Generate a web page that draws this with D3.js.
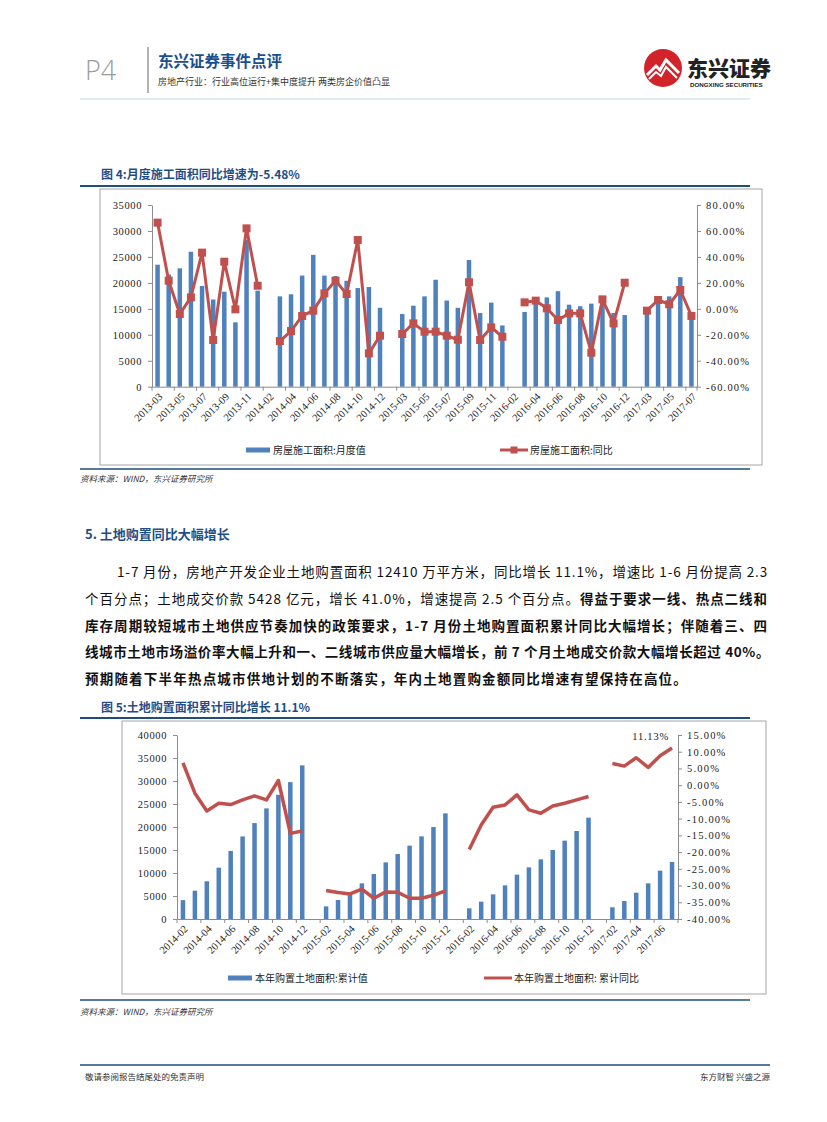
<!DOCTYPE html>
<html><head><meta charset="utf-8">
<script src="https://cdn.jsdelivr.net/npm/d3@7"></script>
<style>
html,body{margin:0;padding:0;background:#fff;}
svg{display:block;}
</style></head>
<body>
<svg id="page" width="827" height="1122"></svg>
<script>
// ---------------- DATA ----------------
// Figure 4: monthly floor area under construction (万平方米) and YoY (%)
const cats1 = ["2013-03","2013-04","2013-05","2013-06","2013-07","2013-08","2013-09","2013-10","2013-11","2013-12",
  "2014-02","2014-03","2014-04","2014-05","2014-06","2014-07","2014-08","2014-09","2014-10","2014-11","2014-12",
  "2015-02","2015-03","2015-04","2015-05","2015-06","2015-07","2015-08","2015-09","2015-10","2015-11","2015-12",
  "2016-02","2016-03","2016-04","2016-05","2016-06","2016-07","2016-08","2016-09","2016-10","2016-11","2016-12",
  "2017-02","2017-03","2017-04","2017-05","2017-06","2017-07"];
const monthly1 = [23500,21600,22800,26000,19400,16800,18300,12400,28300,18500,
  null,17400,17800,21400,25400,21400,21300,20400,19000,19200,15200,
  null,14000,15600,17400,20600,16600,15200,24400,14200,16200,11800,
  null,14400,16200,17200,18400,15800,15500,16000,16000,14200,13800,
  null,14500,16300,17400,21100,14000];
const yoy1 = [66.4,21.7,-4.0,8.8,43.3,-24.0,36.3,-0.4,62.0,17.8,
  null,-24.8,-17.1,-5.5,-1.4,11.9,21.7,11.4,53.0,-34.3,-20.7,
  null,-19.4,-11.2,-17.6,-17.6,-20.7,-23.8,20.5,-24.0,-14.3,-21.5,
  null,5.0,6.3,0.4,-8.6,-3.5,-3.5,-33.8,7.3,-11.2,20.1,
  null,-1.4,6.8,3.5,14.5,-5.48];
const leftTicks1 = [0,5000,10000,15000,20000,25000,30000,35000];
const rightTicks1 = [-60,-40,-20,0,20,40,60,80];
const legend1 = ["房屋施工面积:月度值","房屋施工面积:同比"];

// Figure 5: cumulative land purchase area (万平方米) and cumulative YoY (%)
const cats2 = ["2014-02","2014-03","2014-04","2014-05","2014-06","2014-07","2014-08","2014-09","2014-10","2014-11","2014-12",
  "2015-01","2015-02","2015-03","2015-04","2015-05","2015-06","2015-07","2015-08","2015-09","2015-10","2015-11","2015-12",
  "2016-01","2016-02","2016-03","2016-04","2016-05","2016-06","2016-07","2016-08","2016-09","2016-10","2016-11","2016-12",
  "2017-01","2017-02","2017-03","2017-04","2017-05","2017-06","2017-07"];
const cum2 = [4100,6150,8200,11150,14800,17950,20850,24050,27000,29750,33400,
  null,2750,4130,5600,7750,9780,12300,14130,15950,17970,20000,22970,
  null,2320,3770,5360,7320,9640,11230,12970,15000,17030,19130,22030,
  null,2540,3910,5720,7750,10510,12410];
const yoy2 = [6.7,-2.4,-7.7,-5.4,-5.8,-4.4,-3.2,-4.4,1.4,-14.4,-13.7,
  null,-31.5,-32.1,-32.5,-31.1,-33.8,-31.9,-32.0,-33.8,-33.8,-32.9,-31.6,
  null,-19.2,-11.9,-6.6,-5.9,-2.9,-7.4,-8.4,-6.2,-5.4,-4.4,-3.4,
  null,6.5,5.7,8.2,5.3,8.8,11.13];
const leftTicks2 = [0,5000,10000,15000,20000,25000,30000,35000,40000];
const rightTicks2 = [-40,-35,-30,-25,-20,-15,-10,-5,0,5,10,15];
const legend2 = ["本年购置土地面积:累计值","本年购置土地面积: 累计同比"];

// ---------------- STYLE ----------------
const BLUE = "#4F81BD", RED = "#C0504D", NAVY = "#1F4E86", AXIS = "#8c8c8c";
const CJK = "'Noto Sans CJK SC','Noto Sans',sans-serif";
const SERIF = "'Liberation Serif','DejaVu Serif',serif";

const svg = d3.select("#page");
svg.append("rect").attr("width",827).attr("height",1122).attr("fill","#fff");

// ---------------- HEADER ----------------
svg.append("text").attr("x",85).attr("y",80).text("P4")
  .attr("font-family","'Open Sans',sans-serif").attr("font-weight",300).attr("font-size",27).attr("fill","#9b9b9b");
svg.append("line").attr("x1",148).attr("x2",148).attr("y1",47).attr("y2",93).attr("stroke","#9a9a9a").attr("stroke-width",1.5);
svg.append("text").attr("x",158).attr("y",67).text("东兴证券事件点评")
  .attr("font-family",CJK).attr("font-weight",700).attr("font-size",15.5).attr("fill","#1a4f8f");
svg.append("text").attr("x",158).attr("y",84.5).text("房地产行业：行业高位运行+集中度提升 两类房企价值凸显")
  .attr("font-family",CJK).attr("font-size",9).attr("fill","#333");
// logo
const logo = svg.append("g");
logo.append("circle").attr("cx",663).attr("cy",68).attr("r",19).attr("fill","#d2232a");
logo.append("path").attr("d","M647,75 L656,66 L660,70 L666,60 L679,73").attr("fill","none").attr("stroke","#fff").attr("stroke-width",3);
logo.append("path").attr("d","M649,79 L656,72 L661,76 L666,67 L677,78").attr("fill","none").attr("stroke","#fff").attr("stroke-width",2);
logo.append("text").attr("x",687).attr("y",76).text("东兴证券")
  .attr("font-family",CJK).attr("font-weight",900).attr("font-size",21).attr("fill","#222");
logo.append("text").attr("x",690).attr("y",86.5).text("DONGXING SECURITIES")
  .attr("font-family","'Liberation Sans',Arial,sans-serif").attr("font-weight",700).attr("font-size",6.2).attr("fill","#222");
svg.append("line").attr("x1",80).attr("x2",750).attr("y1",99).attr("y2",99).attr("stroke","#e3ebf2").attr("stroke-width",2);

// ---------------- helpers ----------------
function figTitle(y, txt){
  svg.append("text").attr("x",101).attr("y",y).text(txt)
    .attr("font-family",CJK).attr("font-weight",700).attr("font-size",12).attr("fill",NAVY);
}
function source(y){
  svg.append("text").attr("x",80).attr("y",y).text("资料来源：WIND，东兴证券研究所")
    .attr("font-family",CJK).attr("font-style","italic").attr("font-size",8.5).attr("fill","#333");
}
function hline(y,x1,x2,color,w){
  svg.append("line").attr("x1",x1).attr("x2",x2).attr("y1",y).attr("y2",y).attr("stroke",color).attr("stroke-width",w);
}

function drawChart(o){
  const g = svg.append("g");
  g.append("rect").attr("x",o.box[0]).attr("y",o.box[1]).attr("width",o.box[2]).attr("height",o.box[3])
    .attr("fill","#fff").attr("stroke","#a6a6a6").attr("stroke-width",1);
  const x = d3.scaleBand().domain(o.cats).range([o.x0,o.x1]).padding(0);
  const yL = d3.scaleLinear().domain(o.leftDomain).range([o.yB,o.yT]);
  const yR = d3.scaleLinear().domain(o.rightDomain).range([o.yB,o.yT]);
  const cx = c => x(c) + x.bandwidth()/2;
  // bars
  g.selectAll("rect.bar").data(o.cats.map((c,i)=>({c,v:o.bars[i]})).filter(d=>d.v!=null))
    .enter().append("rect").attr("class","bar")
    .attr("x",d=>cx(d.c)-o.bw/2).attr("width",o.bw)
    .attr("y",d=>yL(d.v)).attr("height",d=>yL(0)-yL(d.v)).attr("fill",BLUE);
  // left axis
  const aL = g.append("g").attr("transform",`translate(${o.x0},0)`)
    .call(d3.axisLeft(yL).tickValues(o.leftTicks).tickSize(4).tickSizeOuter(0).tickPadding(6).tickFormat(d3.format("d")));
  // right axis
  const aR = g.append("g").attr("transform",`translate(${o.x1},0)`)
    .call(d3.axisRight(yR).tickValues(o.rightTicks).tickSize(4).tickSizeOuter(0).tickPadding(5).tickFormat(d=>d.toFixed(2)+"%"));
  [aL,aR].forEach(a=>{
    a.select(".domain").attr("stroke",AXIS);
    a.selectAll(".tick line").attr("stroke",AXIS);
    a.selectAll("text").attr("font-family",SERIF).attr("font-size",10.5).attr("fill","#222");
  });
  aR.selectAll("text").attr("letter-spacing",1.2);
  aL.selectAll("text").attr("letter-spacing",0.6);
  // x axis
  const ax = g.append("g").attr("transform",`translate(0,${o.yB})`)
    .call(d3.axisBottom(x).tickValues([]).tickSizeOuter(0));
  ax.select(".domain").attr("stroke",AXIS);
  o.cats.forEach((c,i)=>{
    if(i%2===0){
      ax.append("line").attr("x1",x(c)).attr("x2",x(c)).attr("y1",0).attr("y2",4).attr("stroke",AXIS);
    }
  });
  ax.append("line").attr("x1",o.x1).attr("x2",o.x1).attr("y1",0).attr("y2",4).attr("stroke",AXIS);
  ax.selectAll("text.xl").data(o.cats.filter((c,i)=>i%2===0)).enter().append("text").attr("class","xl")
    .attr("transform",d=>`translate(${cx(d)+3},${8}) rotate(-45)`)
    .attr("text-anchor","end").attr("dy","0.35em")
    .attr("font-family",SERIF).attr("font-size",10.5).attr("fill","#222").text(d=>d);
  // line
  const pts = o.cats.map((c,i)=>({c,v:o.line[i]}));
  const line = d3.line().defined(d=>d.v!=null).x(d=>cx(d.c)).y(d=>yR(d.v));
  g.append("path").datum(pts).attr("d",line).attr("fill","none").attr("stroke",RED)
    .attr("stroke-width",o.lw).attr("stroke-linejoin","round");
  if(o.markers){
    g.selectAll("rect.mk").data(pts.filter(d=>d.v!=null)).enter().append("rect").attr("class","mk")
      .attr("x",d=>cx(d.c)-o.ms/2).attr("y",d=>yR(d.v)-o.ms/2).attr("width",o.ms).attr("height",o.ms).attr("fill",RED);
  }
  if(o.lastLabel){
    const last = pts[pts.length-1];
    g.append("text").attr("x",cx(last.c)-3).attr("y",yR(last.v)-8).attr("text-anchor","end")
      .attr("font-family",SERIF).attr("font-size",10.5).attr("letter-spacing",0.8).attr("fill","#222")
      .text(last.v.toFixed(2)+"%");
  }
  // legend
  const L = o.legend;
  g.append("rect").attr("x",L.bx).attr("y",L.y-2.5).attr("width",24).attr("height",5).attr("fill",BLUE);
  g.append("text").attr("x",L.bx+27).attr("y",L.y+4).text(o.legendText[0])
    .attr("font-family",CJK).attr("font-size",10).attr("fill","#222");
  g.append("line").attr("x1",L.rx).attr("x2",L.rx+28).attr("y1",L.y).attr("y2",L.y).attr("stroke",RED).attr("stroke-width",3);
  if(o.markers) g.append("rect").attr("x",L.rx+14-3.5).attr("y",L.y-3.5).attr("width",7).attr("height",7).attr("fill",RED);
  g.append("text").attr("x",L.rx+30).attr("y",L.y+4).text(o.legendText[1])
    .attr("font-family",CJK).attr("font-size",10).attr("fill","#222");
}

// ---------------- FIGURE 4 ----------------
figTitle(179, "图 4:月度施工面积同比增速为-5.48%");
hline(186,80,750,"#1f4e79",2);
drawChart({box:[100,189,662,276], x0:152, x1:697, yB:386.7, yT:205,
  cats:cats1, bars:monthly1, line:yoy1, leftDomain:[0,35000], rightDomain:[-60,80],
  leftTicks:leftTicks1, rightTicks:rightTicks1, bw:4.5, lw:3, markers:true, ms:8,
  legend:{bx:246, rx:500, y:450}, legendText:legend1});
hline(469,80,750,"#1f4e79",1.5);
source(482);

// ---------------- TEXT SECTION ----------------
svg.append("text").attr("x",85).attr("y",539).text("5.  土地购置同比大幅增长")
  .attr("font-family",CJK).attr("font-weight",700).attr("font-size",13).attr("fill",NAVY);

const paraLines = [
  {x:117, y:577, w:651, parts:[["1-7 月份，房地产开发企业土地购置面积 12410 万平方米，同比增长 11.1%，增速比 1-6 月份提高 2.3",false]]},
  {x:85, y:604, w:683, parts:[["个百分点；土地成交价款 5428 亿元，增长 41.0%，增速提高 2.5 个百分点。",false],["得益于要求一线、热点二线和",true]]},
  {x:85, y:631, w:683, parts:[["库存周期较短城市土地供应节奏加快的政策要求，1-7 月份土地购置面积累计同比大幅增长；伴随着三、四",true]]},
  {x:85, y:657, w:685, parts:[["线城市土地市场溢价率大幅上升和一、二线城市供应量大幅增长，前 7 个月土地成交价款大幅增长超过 40%。",true]]},
  {x:85, y:684, w:603, parts:[["预期随着下半年热点城市供地计划的不断落实，年内土地置购金额同比增速有望保持在高位。",true]]}
];
paraLines.forEach(l=>{
  const t = svg.append("text").attr("x",l.x).attr("y",l.y).attr("font-family",CJK).attr("font-size",13.5).attr("fill","#111");
  let n=0;
  l.parts.forEach(p=>{ t.append("tspan").attr("font-weight",p[1]?700:400).text(p[0]); n+=p[0].length; });
  const nat = t.node().getComputedTextLength();
  t.attr("letter-spacing",(l.w-nat)/n);
});

// ---------------- FIGURE 5 ----------------
figTitle(712, "图 5:土地购置面积累计同比增长 11.1%");
hline(718,80,750,"#1f4e79",2);
drawChart({box:[122,721,644,273], x0:177, x1:678, yB:919, yT:735,
  cats:cats2, bars:cum2, line:yoy2, leftDomain:[0,40000], rightDomain:[-40,15],
  leftTicks:leftTicks2, rightTicks:rightTicks2, bw:4.5, lw:3.5, markers:false, lastLabel:true,
  legend:{bx:228, rx:484, y:978}, legendText:legend2});
hline(1000,80,750,"#1f4e79",1.5);
source(1015);

// ---------------- FOOTER ----------------
hline(1065,80,770,"#1f4e79",1.5);
svg.append("text").attr("x",85).attr("y",1080).text("敬请参阅报告结尾处的免责声明")
  .attr("font-family",CJK).attr("font-size",8.5).attr("fill","#333");
svg.append("text").attr("x",770).attr("y",1080).attr("text-anchor","end").text("东方财智 兴盛之源")
  .attr("font-family",CJK).attr("font-size",8.5).attr("fill","#333");
</script>
</body></html>
